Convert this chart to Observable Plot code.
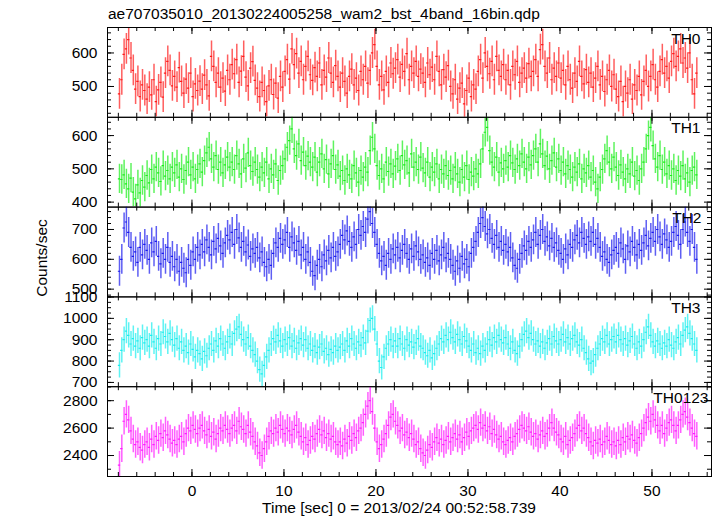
<!DOCTYPE html>
<html><head><meta charset="utf-8">
<script src="https://cdn.jsdelivr.net/npm/d3@7"></script>
<script src="https://cdn.jsdelivr.net/npm/@observablehq/plot@0.6"></script>
<style>
body{margin:0;background:#fff;}
#wrap{position:relative;width:717px;height:516px;background:#fff;}
#wrap svg{position:absolute;left:0;top:0;}
</style></head><body><div id="wrap"></div>
<script>
// ---- data (count rates, 0.25 s bins starting at t = -7.875 s) ----
const binStart = -7.875, binWidth = 0.25;
const th0 = [
478,520,596,612,640,585,548,492,515,470,505,488,
462,498,475,520,455,490,512,468,540,575,548,502,
530,498,556,515,480,522,495,540,470,508,488,516,
492,534,505,472,590,560,512,540,498,525,486,548,
520,565,538,580,512,546,590,528,502,555,574,518,
495,470,512,488,455,502,520,476,510,465,530,498,
545,580,522,612,565,598,540,575,520,560,590,535,
518,556,530,570,505,548,528,585,540,512,562,530,
498,540,515,480,530,552,505,525,488,545,520,560,
510,548,600,625,560,505,530,490,545,512,570,538,
555,580,528,566,545,598,520,560,540,575,530,552,
540,512,570,535,558,520,590,545,505,550,528,562,
500,478,520,462,495,510,448,488,525,470,505,492,
545,580,525,600,560,538,575,520,590,548,530,565,
520,548,505,560,535,575,512,540,555,525,568,530,
545,580,530,610,625,560,540,585,520,555,530,570,
525,548,505,560,520,495,540,515,575,530,508,550,
512,540,498,525,560,505,530,485,520,548,500,535,
492,470,515,455,500,480,520,462,505,488,530,475,
515,548,500,530,565,520,498,545,580,540,560,525,
575,598,560,590,612,570,585,555,600,520,478,540];
const th1 = [
470,468,482,455,440,472,430,410,452,428,465,445,
480,458,498,470,505,488,462,510,478,495,470,505,
488,512,475,500,468,495,520,482,505,470,498,515,
490,525,548,565,530,505,540,498,520,488,512,535,
505,520,498,540,515,485,530,502,548,510,492,520,
498,475,505,488,520,470,500,482,515,465,495,510,
530,565,585,620,560,540,575,525,550,510,538,520,
505,535,490,520,545,500,528,485,515,540,498,512,
478,495,465,500,482,470,510,488,460,495,475,505,
490,555,595,560,510,480,500,470,520,492,515,485,
508,530,495,540,512,525,488,545,505,520,498,535,
502,488,520,475,505,490,515,470,498,485,510,480,
495,470,505,485,460,498,475,510,468,490,478,500,
485,515,560,610,625,555,520,505,535,490,518,500,
525,505,540,518,498,530,510,545,520,500,535,512,
540,560,520,575,545,510,538,500,525,548,505,530,
495,520,485,510,498,475,505,490,515,470,500,488,
510,475,495,460,440,475,498,530,555,520,500,535,
505,480,512,490,470,500,485,520,478,495,465,500,
520,560,600,625,570,530,505,540,498,520,485,510,
480,500,465,495,478,510,470,488,460,495,505,482];
const th2 = [
560,600,705,725,690,640,610,625,590,640,615,650,
630,600,655,625,660,610,585,620,600,640,590,610,
575,600,560,590,570,555,600,580,625,600,640,615,
650,625,665,640,615,660,635,670,645,620,655,680,
665,690,650,700,672,640,660,625,648,610,635,620,
640,605,625,590,575,600,580,620,655,640,670,650,
665,690,640,675,655,630,660,615,640,600,625,590,
560,545,580,600,575,615,595,630,605,640,610,625,
650,680,665,695,660,640,675,650,700,680,710,690,
735,760,720,690,650,620,595,610,580,620,600,635,
615,640,605,630,650,620,600,635,610,645,625,600,
615,590,605,580,620,600,630,595,615,640,605,620,
600,580,560,595,570,610,585,600,575,620,640,660,
690,720,740,710,685,700,670,650,680,640,660,630,
650,625,640,605,580,570,600,620,645,630,660,640,
665,690,650,680,700,660,675,645,670,640,655,630,
620,600,635,615,650,640,665,680,655,690,670,650,
675,660,690,650,670,640,610,625,600,590,615,630,
640,620,655,635,600,645,625,660,640,615,650,630,
655,680,645,670,690,660,700,675,650,685,665,640,
660,690,710,680,650,700,725,690,660,700,640,600];
const th3 = [
780,850,900,940,920,880,905,870,895,860,910,885,
900,870,920,890,860,905,880,935,915,890,930,900,
875,905,860,890,850,870,840,880,855,820,850,835,
810,845,825,860,880,850,895,870,905,880,860,890,
915,880,930,950,960,925,900,880,910,870,850,830,
800,760,740,780,820,850,880,905,890,920,895,870,
900,880,910,870,895,860,885,905,875,900,860,880,
850,870,840,865,880,845,860,830,855,840,870,850,
865,880,850,895,870,905,880,860,890,875,910,885,
940,990,1000,950,880,800,770,820,860,880,900,870,
895,870,905,880,860,900,875,890,865,885,905,870,
860,840,825,850,815,835,860,880,905,890,920,900,
935,910,890,925,900,880,915,895,870,850,880,840,
860,835,870,850,880,900,875,910,890,920,900,885,
910,880,860,890,850,835,870,900,925,940,910,930,
900,880,895,870,890,860,885,905,880,915,895,880,
900,925,890,910,880,905,920,890,875,900,860,840,
810,790,800,830,860,880,905,890,920,880,900,915,
890,920,900,880,905,875,895,915,880,860,890,870,
900,935,960,920,890,870,895,880,860,885,870,900,
875,860,890,910,880,920,945,960,930,905,880,850];
const th0123 = [
2330,2450,2650,2700,2660,2580,2520,2480,2500,2460,2440,2480,
2500,2460,2520,2480,2540,2510,2560,2530,2580,2550,2520,2490,
2510,2480,2520,2540,2500,2560,2600,2580,2620,2590,2560,2600,
2620,2580,2550,2590,2540,2570,2520,2560,2600,2580,2620,2590,
2560,2600,2620,2580,2650,2610,2590,2560,2620,2570,2540,2500,
2470,2420,2400,2450,2500,2540,2580,2560,2600,2570,2620,2590,
2560,2600,2580,2550,2590,2620,2570,2540,2500,2530,2480,2510,
2540,2520,2560,2590,2550,2580,2530,2560,2520,2540,2500,2480,
2500,2470,2520,2490,2540,2510,2560,2530,2580,2600,2640,2700,
2760,2800,2720,2600,2500,2450,2480,2520,2560,2620,2680,2700,
2650,2620,2580,2600,2550,2570,2530,2560,2520,2480,2500,2450,
2420,2400,2440,2480,2460,2500,2530,2490,2520,2480,2510,2540,
2500,2530,2560,2520,2550,2500,2530,2570,2540,2580,2600,2620,
2590,2640,2600,2620,2580,2610,2560,2590,2550,2520,2540,2500,
2480,2510,2530,2500,2540,2560,2590,2620,2600,2580,2610,2570,
2540,2560,2520,2550,2580,2540,2560,2600,2640,2600,2570,2550,
2520,2500,2540,2480,2510,2530,2560,2600,2620,2580,2600,2560,
2530,2500,2470,2510,2490,2520,2480,2500,2540,2510,2480,2500,
2470,2510,2480,2530,2500,2540,2520,2550,2510,2490,2530,2560,
2600,2640,2680,2650,2700,2660,2620,2580,2620,2560,2600,2640,
2660,2620,2580,2620,2660,2700,2720,2680,2640,2600,2560,2540];
const panelNames = ["TH0","TH1","TH2","TH3","TH0123"];
const panelErrors = [46, 44, 50, 59, 100];
const yDomains = [[408,676],[385,655],[474,775],[680,1100.5],[2247,2902]];
const yTickLabels = [[500,600],[400,500,600],[500,600,700],[700,800,900,1000,1100],[2400,2600,2800]];
const yMinorSteps = [20,20,20,25,100];
const xTickLabels = [0,10,20,30,40,50];
const xMinorStep = 2;
const xDomain = [-9.18, 56.47];
const titleText = "ae707035010_20130224005258_wam2_bst_4band_16bin.qdp";
const xTitle = "Time [sec] 0 = 2013/02/24 00:52:58.739";
const yTitle = "Counts/sec";
const series = [th0, th1, th2, th3, th0123];
const colors = ["#ff1a1a","#1aee1a","#1a1aee","#1aeeee","#ff1aff"];
const labelRight = [700,700,701,700,708];

// ---- layout ----
const W = 717, H = 516, mL = 107, mR = 6;
const tops = [27, 116.8, 206.6, 296.4, 386.2, 476];
const font = "'Liberation Sans', Arial, Helvetica, sans-serif";
const wrap = document.getElementById("wrap");
const innerW = W - mL - mR;
const xMinor = d3.range(-8, xDomain[1], xMinorStep);
const fmt = d => String(d);

for (let i = 0; i < 5; i++) {
  const top = tops[i], bottom = tops[i+1], h = bottom - top;
  const err = panelErrors[i];
  const data = series[i].map((v, j) => ({t: binStart + j*binWidth, v, lo: v - err, hi: v + err}));
  const [ya, yb] = yDomains[i];
  const step = yMinorSteps[i];
  const yMinor = d3.range(Math.ceil(ya/step)*step, yb + 1e-9, step);
  const c = colors[i];
  const marks = [
    Plot.ruleX(data, {x: "t", y1: "lo", y2: "hi", stroke: c, strokeWidth: 1.5, strokeOpacity: 0.7, clip: true}),
    Plot.ruleY(data, {y: "v", x1: d => d.t - binWidth/2, x2: d => d.t + binWidth/2, stroke: c, strokeWidth: 1.2, clip: true}),
    Plot.tickX(xMinor, {x: d => d, insetTop: h - 4, stroke: "black"}),
    Plot.tickX(xMinor, {x: d => d, insetBottom: h - 4, stroke: "black"}),
    Plot.tickX(xTickLabels, {x: d => d, insetTop: h - 7, stroke: "black"}),
    Plot.tickX(xTickLabels, {x: d => d, insetBottom: h - 7, stroke: "black"}),
    Plot.tickY(yMinor, {y: d => d, insetRight: innerW - 4, stroke: "black"}),
    Plot.tickY(yMinor, {y: d => d, insetLeft: innerW - 4, stroke: "black"}),
    Plot.tickY(yTickLabels[i], {y: d => d, insetRight: innerW - 7, stroke: "black"}),
    Plot.tickY(yTickLabels[i], {y: d => d, insetLeft: innerW - 7, stroke: "black"}),
    Plot.axisY(yTickLabels[i], {tickSize: 0, tickPadding: 10, fontSize: 15.5, label: null, tickFormat: fmt}),
    Plot.text([panelNames[i]], {text: d => d, frameAnchor: "top-right", textAnchor: "end", lineAnchor: "bottom", dx: labelRight[i] - (W - mR), dy: 16, fontSize: 15.5, fill: "black"}),
    Plot.frame({stroke: "black", strokeWidth: 1})
  ];
  if (i === 4) marks.push(Plot.axisX(xTickLabels, {tickSize: 0, tickPadding: 8, fontSize: 15.5, label: null, tickFormat: fmt}));
  const svg = Plot.plot({
    width: W, height: H,
    marginLeft: mL, marginRight: mR, marginTop: top, marginBottom: H - bottom,
    x: {domain: xDomain, axis: i === 4 ? undefined : null},
    y: {domain: [ya, yb]},
    style: {background: "transparent", fontFamily: font, fontSize: "15.5px", color: "black", overflow: "visible"},
    marks
  });
  wrap.appendChild(svg);
}

// ---- titles ----
const svgT = d3.create("svg").attr("width", W).attr("height", H)
  .style("font-family", font).style("font-size", "15.5px");
svgT.append("text").attr("x", 108).attr("y", 19).text(titleText);
svgT.append("text").attr("x", 399).attr("y", 513).attr("text-anchor", "middle").text(xTitle);
svgT.append("text").attr("transform", "translate(46.5,258) rotate(-90)").attr("text-anchor", "middle").text(yTitle);
wrap.appendChild(svgT.node());
</script></body></html>
